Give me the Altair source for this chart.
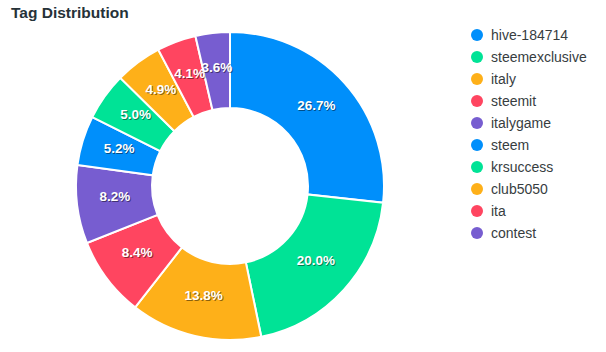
import altair as alt
import pandas as pd

tags = ["hive-184714", "steemexclusive", "italy", "steemit", "italygame",
        "steem", "krsuccess", "club5050", "ita", "contest"]
values = [26.7, 20.0, 13.8, 8.4, 8.2, 5.2, 5.0, 4.9, 4.1, 3.6]
palette = ["#008FFB", "#00E396", "#FEB019", "#FF4560", "#775DD0",
           "#008FFB", "#00E396", "#FEB019", "#FF4560", "#775DD0"]
title_text = ["Tag Distribution"]

df = pd.DataFrame({"tag": tags, "value": values, "idx": list(range(len(tags)))})
tdf = pd.DataFrame({"t": title_text})

FONT = "Liberation Sans"
color = alt.Color("tag:N", scale=alt.Scale(domain=tags, range=palette), legend=None)

base = alt.Chart(df).encode(
    theta=alt.Theta("value:Q", stack=True),
    order=alt.Order("idx:Q"),
    x=alt.value(230),
    y=alt.value(186),
)

arcs = base.mark_arc(innerRadius=78, outerRadius=154, stroke="white", strokeWidth=2).encode(color=color)

lbl = base.transform_calculate(label="format(datum.value, '.1f') + '%'")
shadow = lbl.mark_text(radius=116, font=FONT, fontSize=13.5, fontWeight="bold",
                       color="black", opacity=0.45, dx=1, dy=-2).encode(text="label:N")
labels = lbl.mark_text(radius=116, font=FONT, fontSize=13.5, fontWeight="bold",
                       color="white", dy=-3).encode(text="label:N")

ly = alt.Y("tag:N", sort=tags, scale=alt.Scale(type="point", range=[35, 233], padding=0), axis=None)
leg_dots = alt.Chart(df).mark_circle(size=144, opacity=1).encode(
    x=alt.value(477), y=ly, color=color)
leg_text = alt.Chart(df).mark_text(align="left", baseline="middle", font=FONT, fontSize=14,
                                   color="#373d3f", dy=1).encode(
    x=alt.value(491), y=ly, text="tag:N")

title = alt.Chart(tdf).mark_text(align="left", baseline="alphabetic", font=FONT, fontSize=15.5,
                                 fontWeight="bold", color="#263238").encode(
    x=alt.value(11), y=alt.value(18), text="t:N")

chart = alt.layer(arcs, shadow, labels, leg_dots, leg_text, title).properties(
    width=606, height=352, autosize=alt.AutoSizeParams(type="none"), padding=0
).configure_view(stroke=None)

chart.save("out.html", embed_options={"renderer": "svg", "actions": False})
